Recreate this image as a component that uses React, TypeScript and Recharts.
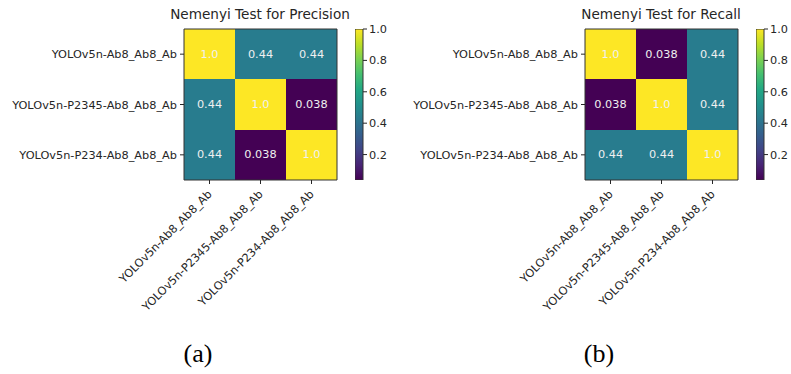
import {
  ScatterChart,
  Scatter,
  XAxis,
  YAxis,
  ReferenceArea,
  BarChart,
  Bar,
} from "recharts";

const models = [
  "YOLOv5n-Ab8_Ab8_Ab",
  "YOLOv5n-P2345-Ab8_Ab8_Ab",
  "YOLOv5n-P234-Ab8_Ab8_Ab",
];

// pairwise Nemenyi p-values, row-major
const precisionP = [
  [1.0, 0.44, 0.44],
  [0.44, 1.0, 0.038],
  [0.44, 0.038, 1.0],
];

const recallP = [
  [1.0, 0.038, 0.44],
  [0.038, 1.0, 0.44],
  [0.44, 0.44, 1.0],
];

const colorbarTicks = [0.2, 0.4, 0.6, 0.8, 1.0];

const FONT = "'DejaVu Sans', sans-serif";
const INK = "#262626";

const viridisStops = [
  "#440154", "#482475", "#414487", "#355f8d", "#2a788e", "#21918c",
  "#22a884", "#44bf70", "#7ad151", "#bddf26", "#fde725",
];

const hexToRgb = (h: string) => [
  parseInt(h.slice(1, 3), 16),
  parseInt(h.slice(3, 5), 16),
  parseInt(h.slice(5, 7), 16),
];

const viridis = (t: number) => {
  const c = Math.min(1, Math.max(0, t)) * 10;
  const i = Math.min(9, Math.floor(c));
  const f = c - i;
  const a = hexToRgb(viridisStops[i]);
  const b = hexToRgb(viridisStops[i + 1]);
  const rgb = a.map((v, k) => Math.round(v + (b[k] - v) * f));
  return `rgb(${rgb.join(",")})`;
};

const fmt = (v: number) => (v === 1 ? "1.0" : String(v));

const RotatedTick = (props: any) => {
  const { x, y, payload } = props;
  const ax = x + 3;
  const ay = y + 9;
  return (
    <text
      x={ax}
      y={ay}
      transform={`rotate(-45 ${ax} ${ay})`}
      textAnchor="end"
      fontSize={11.3}
      fontFamily={FONT}
      fill={INK}
    >
      {models[payload.value]}
    </text>
  );
};

const CellLabel = (props: any) => {
  const { cx, cy, payload } = props;
  return (
    <text
      x={cx}
      y={cy}
      textAnchor="middle"
      dominantBaseline="central"
      fontSize={11.3}
      fontFamily={FONT}
      fill="#f0f0f0"
    >
      {fmt(payload.v)}
    </text>
  );
};

function Heatmap({
  matrix,
  title,
  caption,
  id,
  left,
}: {
  matrix: number[][];
  title: string;
  caption: string;
  id: string;
  left: number;
}) {
  const flat = matrix.flat();
  const lo = Math.min(...flat);
  const hi = Math.max(...flat);
  const norm = (v: number) => (v - lo) / (hi - lo);
  const cells = matrix.flatMap((row, r) =>
    row.map((v, c) => ({ row: r, col: c, v }))
  );

  return (
    <div style={{ position: "absolute", left, top: 0, width: 400, height: 374 }}>
      <div
        style={{
          position: "absolute",
          left: 160,
          width: 200,
          top: 6,
          textAlign: "center",
          fontFamily: FONT,
          fontSize: 13.6,
          color: INK,
          whiteSpace: "nowrap",
        }}
      >
        {title}
      </div>

      <div style={{ position: "absolute", left: 0, top: 0 }}>
        <ScatterChart
          width={400}
          height={374}
          margin={{ top: 29, right: 63, bottom: 44, left: 0 }}
        >
          <XAxis
            type="number"
            dataKey="col"
            domain={[-0.5, 2.5]}
            ticks={[0, 1, 2]}
            height={150}
            axisLine={false}
            tickSize={4}
            tickMargin={2}
            tickLine={{ stroke: INK }}
            tick={<RotatedTick />}
            interval={0}
          />
          <YAxis
            type="number"
            dataKey="row"
            domain={[-0.5, 2.5]}
            reversed
            ticks={[0, 1, 2]}
            width={184}
            axisLine={false}
            tickSize={4}
            tickMargin={3}
            tickLine={{ stroke: INK }}
            tick={{ fill: INK, fontSize: 11.3, fontFamily: FONT }}
            tickFormatter={(i: number) => models[i]}
            interval={0}
          />
          {cells.map((d) => (
            <ReferenceArea
              key={`${d.row}-${d.col}`}
              x1={d.col - 0.5}
              x2={d.col + 0.5}
              y1={d.row - 0.5}
              y2={d.row + 0.5}
              fill={viridis(norm(d.v))}
              fillOpacity={1}
              stroke="none"
              shapeRendering="crispEdges"
              ifOverflow="visible"
            />
          ))}
          <ReferenceArea
            x1={-0.5}
            x2={2.5}
            y1={-0.5}
            y2={2.5}
            fill="none"
            stroke="#333"
            strokeWidth={1}
            ifOverflow="visible"
          />
          <Scatter data={cells} shape={<CellLabel />} isAnimationActive={false} />
        </ScatterChart>
      </div>

      {/* colorbar */}
      <div style={{ position: "absolute", left: 355, top: 0 }}>
        <BarChart
          width={45}
          height={374}
          data={[{ range: [lo, hi] }]}
          margin={{ top: 29, right: 0, bottom: 194, left: 0 }}
          barCategoryGap={0}
        >
          <defs>
            <linearGradient id={id} x1="0" y1="1" x2="0" y2="0">
              {viridisStops.map((c, i) => (
                <stop key={c} offset={`${i * 10}%`} stopColor={c} />
              ))}
            </linearGradient>
          </defs>
          <XAxis hide />
          <YAxis
            orientation="right"
            domain={[lo, hi]}
            ticks={colorbarTicks}
            width={37}
            axisLine={false}
            tickSize={4}
            tickMargin={2}
            tickLine={{ stroke: INK }}
            tick={{ fill: INK, fontSize: 11.3, fontFamily: FONT, textAnchor: "start" }}
            tickFormatter={(v: number) => v.toFixed(1)}
            allowDataOverflow
          />
          <Bar
            dataKey="range"
            fill={`url(#${id})`}
            stroke="#333"
            strokeWidth={1}
            isAnimationActive={false}
          />
        </BarChart>
      </div>

      <div
        style={{
          position: "absolute",
          left: 148,
          width: 100,
          top: 341,
          lineHeight: 1,
          textAlign: "center",
          fontFamily: "'Liberation Serif', serif",
          fontSize: 26,
          color: "#000",
        }}
      >
        {caption}
      </div>
    </div>
  );
}

export default function App() {
  return (
    <div
      style={{
        position: "absolute",
        left: 0,
        top: 0,
        width: 791,
        height: 374,
        background: "#fff",
        overflow: "hidden",
      }}
    >
      <Heatmap
        matrix={precisionP}
        title="Nemenyi Test for Precision"
        caption="(a)"
        id="viridisA"
        left={0}
      />
      <Heatmap
        matrix={recallP}
        title="Nemenyi Test for Recall"
        caption="(b)"
        id="viridisB"
        left={401}
      />
    </div>
  );
}
